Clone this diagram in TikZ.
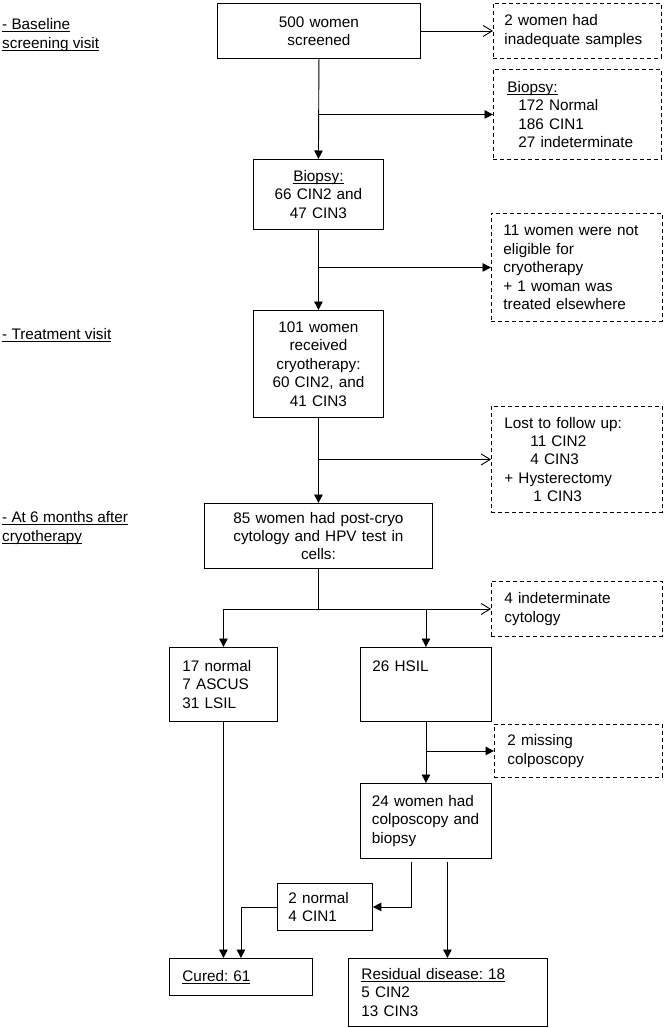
\documentclass[tikz,border=0pt]{standalone}
\usepackage{fontspec}
\setmainfont{Liberation Sans}
\usetikzlibrary{arrows.meta}
\frenchspacing
\newcommand\myul[1]{\setbox0\hbox{#1}\rlap{\rule[-2.4pt]{\wd0}{0.8pt}}\box0}
\begin{document}
\begin{tikzpicture}[x=1pt,y=-1pt,
  every node/.style={font=\fontsize{15.3}{18.4}\selectfont, text=black},
  bx/.style={draw=black, line width=0.9pt, anchor=north west, inner ysep=0pt, align=left},
  dsh/.style={bx, dash pattern=on 4pt off 3pt},
  lbl/.style={anchor=west, inner sep=0pt, align=left},
  conn/.style={line width=0.9pt, draw=black},
  farr/.style={conn, -{Triangle[length=8.5pt,width=8.5pt]}},
  oarr/.style={conn, -{Straight Barb[length=9pt,width=11pt,line width=0.9pt]}}
]
\useasboundingbox (0,0) rectangle (664,1028);

% stage labels
\node[lbl] (l1) at (2,35) {\myul{- Baseline}\\\myul{screening visit}};
\node[lbl] (l2) at (2,335) {\myul{- Treatment visit}};
\node[lbl] (l3) at (2,528) {\myul{- At 6 months after}\\\myul{cryotherapy}};

% boxes
\node[bx, align=center, minimum height=55pt, text width=193pt, inner xsep=5pt] (b1) at (217,3) {500 women\\screened};
\node[dsh, minimum height=55pt, text width=146pt, inner xsep=11pt] (d1) at (493,3) {2 women had\\inadequate samples};
\node[dsh, minimum height=90pt, text width=140pt, inner xsep=14pt] (d2) at (493,69) {\myul{Biopsy:}\\\hspace*{11pt}172 Normal\\\hspace*{11pt}186 CIN1\\\hspace*{11pt}27 indeterminate};
\node[bx, align=center, minimum height=70pt, text width=124pt, inner xsep=3pt] (b2) at (253,159) {\myul{Biopsy:}\\66 CIN2 and\\47 CIN3};
\node[dsh, minimum height=108pt, text width=147pt, inner xsep=12pt] (d3) at (491,213) {11 women were not\\eligible for\\cryotherapy\\+ 1 woman was\\treated elsewhere};
\node[bx, align=center, minimum height=107pt, text width=124pt, inner xsep=3pt] (b3) at (253,310) {101 women\\received\\cryotherapy:\\60 CIN2, and\\41 CIN3};
\node[dsh, minimum height=106pt, text width=145pt, inner xsep=13pt] (d4) at (491,406) {Lost to follow up:\\\hspace*{26pt}11 CIN2\\\hspace*{26pt}4 CIN3\\+ Hysterectomy\\\hspace*{29pt}1 CIN3};
\node[bx, align=center, minimum height=65pt, text width=220pt, inner xsep=4pt] (b4) at (204,503) {85 women had post-cryo\\cytology and HPV test in\\cells:};
\node[dsh, minimum height=55pt, text width=145pt, inner xsep=13pt] (d5) at (491,581) {4 indeterminate\\cytology};
\node[bx, minimum height=74pt, text width=82pt, inner xsep=13pt] (b5) at (169,647) {17 normal\\7 ASCUS\\31 LSIL};
\node[bx, minimum height=74pt, text width=107pt, inner xsep=12pt] (b6) at (360,647) {26 HSIL\\\mbox{}\\\mbox{}};
\node[dsh, minimum height=53pt, text width=142pt, inner xsep=13pt] (d6) at (494,724) {2 missing\\colposcopy};
\node[bx, minimum height=75pt, text width=108pt, inner xsep=11.5pt] (b7) at (360,783) {24 women had\\colposcopy and\\biopsy};
\node[bx, minimum height=47pt, text width=73pt, inner xsep=11pt] (b8) at (277,883) {2 normal\\4 CIN1};
\node[bx, minimum height=37pt, text width=117pt, inner xsep=13pt] (b9) at (169,958) {\myul{Cured: 61}};
\node[bx, minimum height=68pt, text width=173pt, inner xsep=13pt] (b10) at (348,958) {\myul{Residual disease: 18}\\5 CIN2\\13 CIN3};

% connectors
\draw[oarr] (b1.east) -- (d1.west);
\draw[farr] (b1.south) -- (b2.north);
\draw[farr] (b1.south |- d2.west) -- (d2.west);
\draw[farr] (b2.south) -- (b3.north);
\draw[farr] (b2.south |- d3.west) -- (d3.west);
\draw[farr] (b3.south) -- (b4.north);
\draw[oarr] (b3.south |- d4.west) -- (d4.west);

\coordinate (j) at (b4.south |- d5.west);
\draw[conn] (b4.south) -- (j);
\draw[oarr] (b5.north |- j) -- (d5.west);
\draw[farr] (b5.north |- j) -- (b5.north);
\draw[farr] (b6.north |- j) -- (b6.north);

\draw[farr] (b6.south) -- (b7.north);
\draw[farr] (b6.south |- d6.west) -- (d6.west);

\coordinate (s1) at ([xshift=-14.5pt,yshift=-3pt]b7.south);
\coordinate (s2) at ([xshift=21.5pt,yshift=-3pt]b7.south);
\draw[farr] (s1) |- (b8.east);
\draw[farr] (s2) -- (s2 |- b10.north);
\draw[farr] (b5.south) -- (b5.south |- b9.north);
\draw[farr] (b8.west) -| (b9.north);
\end{tikzpicture}
\end{document}
